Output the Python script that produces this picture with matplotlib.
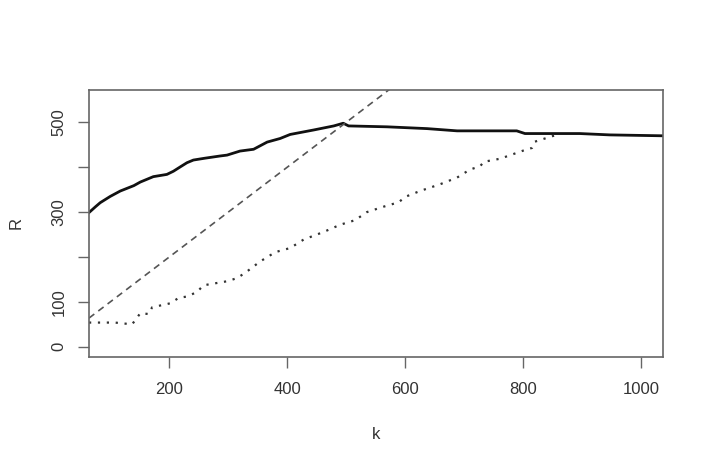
import matplotlib
matplotlib.use("Agg")
import matplotlib.pyplot as plt

# Solid curve (R vs k)
k_solid = [64, 75, 83, 100, 117, 140, 151, 173, 196, 207, 219, 230, 241, 260, 286, 298,
           320, 343, 366, 388, 405, 445, 479, 495, 504, 569, 637, 688, 727, 789, 803,
           896, 947, 1037]
r_solid = [299, 312, 321, 335, 347, 359, 367, 379, 384, 391, 401, 410, 416, 420, 425, 427,
           436, 440, 456, 464, 473, 483, 492, 498, 492, 490, 486, 481, 481, 481, 475,
           475, 472, 470]

# Dotted curve
k_dot = [64, 108, 123, 137, 145, 151, 165, 171, 202, 216, 230, 247, 258, 298, 315, 330,
         354, 380, 405, 428, 462, 490, 515, 535, 563, 589, 600, 625, 659, 688, 710, 727,
         733, 761, 800, 815, 820, 849, 863]
r_dot = [54, 54, 52, 50, 64, 75, 73, 88, 97, 109, 112, 122, 137, 146, 153, 166,
         190, 211, 220, 239, 256, 272, 282, 300, 312, 322, 334, 347, 362, 377, 395, 402,
         412, 419, 437, 443, 457, 469, 474]

# Dashed reference line R = k
k_dash = [64, 600]
r_dash = [64, 600]

x_ticks = [200, 400, 600, 800, 1000]
y_ticks = [0, 100, 200, 300, 400, 500]
y_labels = ["0", "100", "", "300", "", "500"]

plt.rcParams['font.family'] = ['Liberation Sans', 'DejaVu Sans']

fig = plt.figure(figsize=(7.09, 4.68), dpi=100)
ax = fig.add_axes([89/709, 1 - 356.7/468, (663 - 89)/709, (356.7 - 90)/468])

ax.plot(k_solid, r_solid, color="#111111", lw=2.0, solid_joinstyle="round")
ax.plot(k_dash, r_dash, color="#555555", lw=1.2, linestyle=(0, (4, 3)))
ax.plot(k_dot, r_dot, color="#333333", lw=1.6, linestyle=(0, (1, 3)))

ax.set_xlim(64, 1037)
ax.set_ylim(-22, 572)

ax.set_xticks(x_ticks)
ax.set_xticklabels([str(v) for v in x_ticks])
ax.set_yticks(y_ticks)
ax.set_yticklabels(y_labels, rotation=90, va="center")

for s in ax.spines.values():
    s.set_color("#666666")
    s.set_linewidth(1.2)

ax.tick_params(axis="both", which="both", length=8, width=1.0, color="#666666",
               labelsize=12, labelcolor="#333333")
ax.tick_params(axis="x", pad=10)
ax.tick_params(axis="y", pad=8)

ax.set_xlabel("k", fontsize=12, color="#333333", labelpad=22)
ax.set_ylabel("R", fontsize=12, color="#333333", labelpad=20)

fig.savefig("out.png", dpi=100)
